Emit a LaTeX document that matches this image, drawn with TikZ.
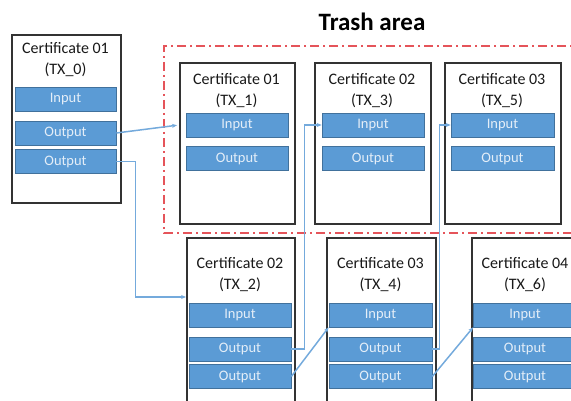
\documentclass[tikz,border=0pt]{standalone}
\usepackage{fontspec}
\setmainfont{Carlito}
\usetikzlibrary{arrows.meta,calc}

\definecolor{barfill}{HTML}{5B9BD5}
\definecolor{barline}{HTML}{41719C}
\definecolor{bartext}{HTML}{E4EEF8}
\definecolor{linkcol}{HTML}{74AADC}
\definecolor{trashred}{HTML}{E5545A}
\definecolor{boxline}{HTML}{333333}

\tikzset{
  cert/.style={draw=boxline, line width=1.6pt, fill=white, anchor=north west, inner sep=0pt},
  certtext/.style={align=center, font=\fontsize{16}{21}\selectfont, text=black!90, inner sep=0pt},
  bar/.style={fill=barfill, draw=barline, line width=0.7pt, minimum height=24pt, inner sep=0pt,
              text=bartext, font=\fontsize{14.5}{16}\selectfont},
  link/.style={draw=linkcol, line width=1.5pt},
  linkarrow/.style={link, -{Stealth[length=5pt,width=4pt]}},
  trash/.style={draw=trashred, line width=1.6pt, dash pattern=on 9pt off 4pt on 2pt off 4pt}
}

\begin{document}
\begin{tikzpicture}[x=1pt,y=-1pt]
\useasboundingbox (0,0) rectangle (571,401);

% title and the dashed region
\node[font=\bfseries\fontsize{25}{28}\selectfont, inner sep=0pt] (title) at (372,22) {Trash area};
\draw[trash] (585,46) -- (164,46) -- (164,233) -- (585,233);

% certificate TX_0
\node[cert, minimum width=109pt, minimum height=168pt] (c0) at (11,34) {};
\node[certtext] (t0) at (65.5,59.5) {Certificate 01\\(TX\_0)};
\node[bar, minimum width=101pt] (in0) at (65.5,99) {Input};
\node[bar, minimum width=101pt] (o01) at (65.5,133) {Output};
\node[bar, minimum width=101pt] (o02) at (65.5,161.5) {Output};

% top row: certificates in the trash area
\node[cert, minimum width=115pt, minimum height=161pt] (c1) at (179,62) {};
\node[certtext] (t1) at (236.5,90.5) {Certificate 01\\(TX\_1)};
\node[bar, minimum width=102pt] (in1) at (237,125) {Input};
\node[bar, minimum width=102pt] (o1) at (237,158.5) {Output};

\node[cert, minimum width=116pt, minimum height=161pt] (c3) at (314,62) {};
\node[certtext] (t3) at (372,90.5) {Certificate 02\\(TX\_3)};
\node[bar, minimum width=102pt] (in3) at (373,125) {Input};
\node[bar, minimum width=102pt] (o3) at (373,158.5) {Output};

\node[cert, minimum width=116pt, minimum height=161pt] (c5) at (444,62) {};
\node[certtext] (t5) at (502,90.5) {Certificate 03\\(TX\_5)};
\node[bar, minimum width=103pt] (in5) at (502.5,125) {Input};
\node[bar, minimum width=103pt] (o5) at (502.5,158.5) {Output};

% bottom row
\node[cert, minimum width=108pt, minimum height=190pt] (c2) at (186,237) {};
\node[certtext] (t2) at (240,275) {Certificate 02\\(TX\_2)};
\node[bar, minimum width=102pt] (in2) at (240,315) {Input};
\node[bar, minimum width=102pt] (o21) at (240,349) {Output};
\node[bar, minimum width=102pt] (o22) at (240,376.5) {Output};

\node[cert, minimum width=109pt, minimum height=190pt] (c4) at (326,237) {};
\node[certtext] (t4) at (380.5,275) {Certificate 03\\(TX\_4)};
\node[bar, minimum width=103pt] (in4) at (380.5,315) {Input};
\node[bar, minimum width=103pt] (o41) at (380.5,349) {Output};
\node[bar, minimum width=103pt] (o42) at (380.5,376.5) {Output};

\node[cert, minimum width=109pt, minimum height=190pt] (c6) at (471,237) {};
\node[certtext] (t6) at (525,275) {Certificate 04\\(TX\_6)};
\node[bar, minimum width=103pt] (in6) at (525,315) {Input};
\node[bar, minimum width=103pt] (o61) at (525,349) {Output};
\node[bar, minimum width=103pt] (o62) at (525,376.5) {Output};

% where the link into TX_2 meets its frame
\coordinate (c2in) at (186,297);

% links from outputs to inputs
\draw[linkarrow, shorten >=2pt] (o01.east) -- (in1.west -| c1.west);
\draw[linkarrow] (o02.east) -- ++(19,0) |- (c2in);
\draw[linkarrow] (o21.east) -- ++(13,0) |- (in3.west);
\draw[linkarrow] (o22.east) -- (in4.south west);
\draw[linkarrow] (o41.east) -- ++(7,0) |- (in5.west);
\draw[linkarrow] (o42.east) -- (in6.south west);
\end{tikzpicture}
\end{document}
